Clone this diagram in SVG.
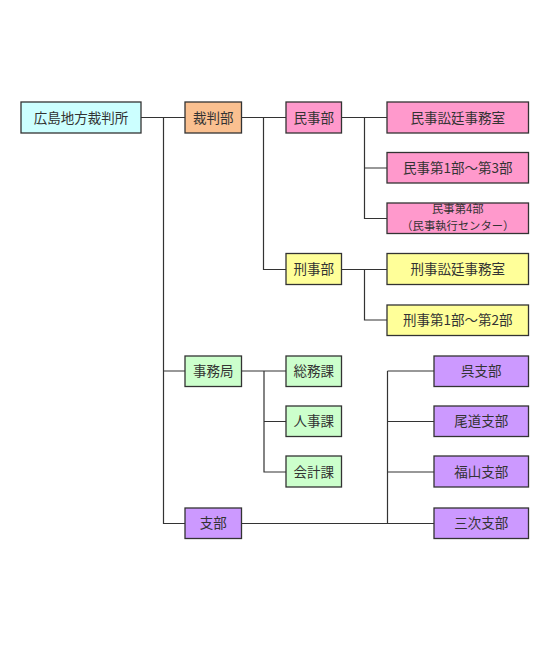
<svg xmlns="http://www.w3.org/2000/svg" width="550" height="648" viewBox="0 0 550 648">
<style>
.b{stroke:#333;stroke-width:1.3}
.t{font-family:"Noto Sans CJK JP","Noto Sans CJK SC",sans-serif;font-size:13.5px;fill:#333;text-anchor:middle}
.s{font-size:11.3px}
.cy{fill:#ccffff}.or{fill:#fac090}.pk{fill:#ff99cc}.ye{fill:#ffff99}.gr{fill:#ccffcc}.pu{fill:#cc99ff}
#c path{stroke:#333;stroke-width:1.2;fill:none}
</style>
<rect width="550" height="648" fill="#fff"/>
<g id="c">
<path d="M141 117.5H185M163.5 117.5V523.5H185M163.5 371H185"/>
<path d="M241.5 117.5H286M263.5 117.5V269.5H286"/>
<path d="M341.5 117.5H387M364.5 117.5V218.5H387M364.5 168H387"/>
<path d="M341.5 269.5H387M364.5 269.5V320H387"/>
<path d="M241.5 371H286M264 371V472H286M264 421.5H286"/>
<path d="M241.5 523.5H434M387.5 371V523.5M387.5 371H434M387.5 421.5H434M387.5 472H434"/>
</g>
<g id="n0"><rect class="b cy" x="21" y="102" width="120" height="31"/><text class="t" x="81" y="122.5">広島地方裁判所</text></g>
<g id="n1"><rect class="b or" x="185" y="102" width="56.5" height="31"/><text class="t" x="213.3" y="122.5">裁判部</text></g>
<g id="n2"><rect class="b pk" x="286" y="102" width="55.5" height="31"/><text class="t" x="313.8" y="122.5">民事部</text></g>
<g id="n3"><rect class="b pk" x="387" y="102" width="141.5" height="31"/><text class="t" x="457.8" y="122.5">民事訟廷事務室</text></g>
<g id="n4"><rect class="b pk" x="387" y="152.5" width="141.5" height="30.5"/><text class="t" x="457.8" y="172.8">民事第1部～第3部</text></g>
<g id="n5"><rect class="b pk" x="387" y="203" width="141.5" height="30.5"/><text class="t s" x="457.8" y="213.2">民事第4部</text><text class="t s" x="457.8" y="229.8">（民事執行センター）</text></g>
<g id="n6"><rect class="b ye" x="286" y="253.5" width="55.5" height="31"/><text class="t" x="313.8" y="274">刑事部</text></g>
<g id="n7"><rect class="b ye" x="387" y="253.5" width="141.5" height="31"/><text class="t" x="457.8" y="274">刑事訟廷事務室</text></g>
<g id="n8"><rect class="b ye" x="387" y="305" width="141.5" height="30.5"/><text class="t" x="457.8" y="325">刑事第1部～第2部</text></g>
<g id="n9"><rect class="b gr" x="185" y="356" width="56.5" height="30.5"/><text class="t" x="213.3" y="376">事務局</text></g>
<g id="n10"><rect class="b gr" x="286" y="356" width="55.5" height="30.5"/><text class="t" x="313.8" y="376">総務課</text></g>
<g id="n11"><rect class="b gr" x="286" y="406" width="55.5" height="30.5"/><text class="t" x="313.8" y="426">人事課</text></g>
<g id="n12"><rect class="b gr" x="286" y="456" width="55.5" height="31"/><text class="t" x="313.8" y="476.5">会計課</text></g>
<g id="n13"><rect class="b pu" x="185" y="508" width="56.5" height="30.5"/><text class="t" x="213.3" y="528">支部</text></g>
<g id="n14"><rect class="b pu" x="434" y="356" width="94.5" height="30.5"/><text class="t" x="481.3" y="376">呉支部</text></g>
<g id="n15"><rect class="b pu" x="434" y="406" width="94.5" height="30.5"/><text class="t" x="481.3" y="426">尾道支部</text></g>
<g id="n16"><rect class="b pu" x="434" y="456" width="94.5" height="31"/><text class="t" x="481.3" y="476.5">福山支部</text></g>
<g id="n17"><rect class="b pu" x="434" y="508" width="94.5" height="30.5"/><text class="t" x="481.3" y="528">三次支部</text></g>
</svg>
